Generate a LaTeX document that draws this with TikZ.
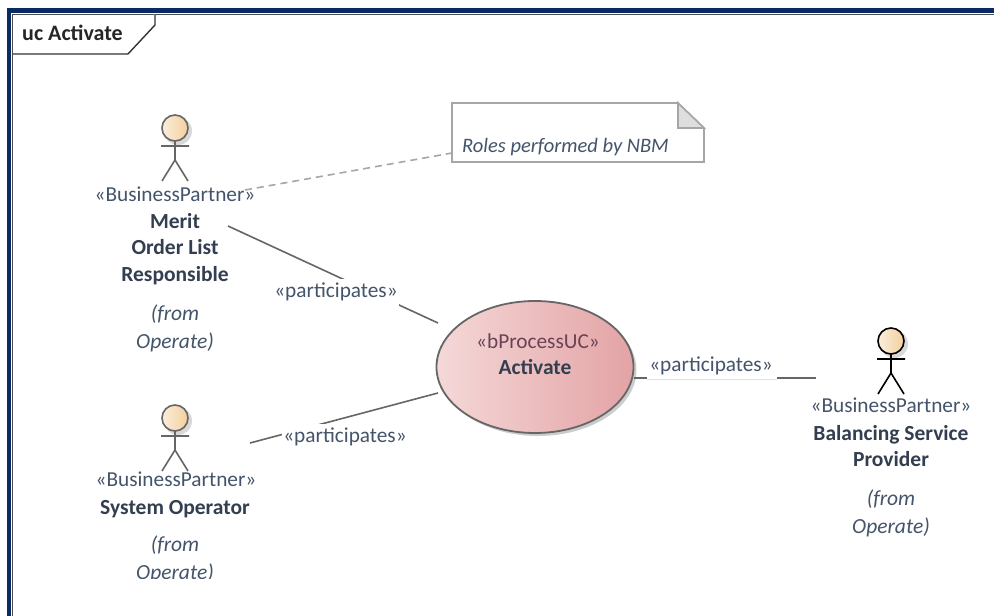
\documentclass[tikz,border=0pt]{standalone}
\usepackage{fontspec}
\setmainfont{Carlito}
\usetikzlibrary{shadows,shapes.geometric}
\definecolor{navy}{HTML}{0A2A66}
\definecolor{txt}{HTML}{44546A}
\definecolor{ln}{HTML}{666666}
\definecolor{ucleft}{HTML}{F5D8D8}
\definecolor{ucright}{HTML}{E3A3A5}
\definecolor{headleft}{HTML}{FBEEDD}
\definecolor{headright}{HTML}{F3CF9C}
\tikzset{
 frameline/.style={draw=navy,line width=4.5pt},
 conn/.style={draw=ln,line width=1.6pt},
 lab/.style={font=\fontsize{21.3}{24}\selectfont,text=txt,inner sep=1pt,minimum height=27},
 stereo/.style={font=\fontsize{21.3}{24}\selectfont,text=txt,inner sep=0pt},
 bname/.style={font=\fontsize{21.5}{26.5}\selectfont\bfseries,text=txt!75!black,align=center,inner sep=0pt},
 from/.style={font=\fontsize{21.5}{27.5}\selectfont\itshape,text=txt,align=center,inner sep=0pt},
 actorline/.style={line width=1.6pt,draw=#1},
}
\newcommand{\actorfig}[3]{% x, y of head centre, colour
 \fill[black!15] (#1+3,#2+3) circle (14);
 \draw[actorline=#3,left color=headleft,right color=headright] (#1,#2) circle (13);
 \draw[actorline=#3] (#1,#2+13) -- (#1,#2+32) (#1-14,#2+18) -- (#1+14,#2+18)
   (#1-13,#2+53) -- (#1,#2+32) -- (#1+13,#2+53);
}
\begin{document}
\begin{tikzpicture}[x=1pt,y=-1pt]
\useasboundingbox (0,0) rectangle (994,616);
\fill[white] (0,0) rectangle (994,616);
% frame
\draw[frameline] (9,616) -- (9,10.5) -- (994,10.5);
\draw[draw=black!70,line width=1.4pt] (12.5,616) -- (12.5,14.5) -- (994,14.5);
% tab
\coordinate (t1) at (12.5,54);
\coordinate (t2) at (128,54);
\coordinate (t3) at (155,25);
\coordinate (t4) at (155,14.5);
\draw[black!80,line width=1.4pt,fill=white] (t1) -- (t2) -- (t3) -- (t4);
\node[anchor=west,inner sep=0pt,font=\fontsize{22}{24}\selectfont\bfseries,text=black!85] (title) at (22,33) {uc Activate};

% actors
\actorfig{175}{128}{ln}
\actorfig{175}{418}{ln}
\actorfig{891}{341}{black}

% actor 1 text
\node[stereo] (a1) at (175,194) {«BusinessPartner»};
\node[bname,anchor=north] (a1n) at (175,213) {Merit\\Order List\\Responsible};
\node[from,anchor=north] (a1f) at (175,305) {(from\\Operate)};
% actor 2 text
\node[stereo] (a2) at (176,479) {«BusinessPartner»};
\node[bname,anchor=north] (a2n) at (175,500) {System Operator};
\begin{scope}
\clip (90,525) rectangle (270,578);
\node[from,anchor=north] (a2f) at (175,536) {(from\\Operate)};
\end{scope}
% actor 3 text
\node[stereo] (a3) at (891,405) {«BusinessPartner»};
\node[bname,anchor=north] (a3n) at (891,425) {Balancing Service\\Provider};
\node[from,anchor=north] (a3f) at (891,490) {(from\\Operate)};

% use case
\node[ellipse,minimum width=197,minimum height=132,inner sep=0pt,
  draw=ln,line width=1.8pt,left color=ucleft,right color=ucright,
  drop shadow={shadow xshift=3pt,shadow yshift=-3pt,opacity=.2,fill=black}] (uc) at (535,367) {};
\node[stereo,text=txt!80!red] (ucs) at (538,341) {«bProcessUC»};
\node[font=\fontsize{21.5}{24}\selectfont\bfseries,text=txt!75!black,inner sep=0pt] (ucn) at (535,367) {Activate};

% note
\coordinate (n1) at (452,103);
\coordinate (n2) at (678,103);
\coordinate (n3) at (704,128);
\coordinate (n4) at (704,162);
\coordinate (n5) at (452,162);
\coordinate (n6) at (678,128);
\draw[draw=black!35,line width=1.6pt,fill=white] (n1) -- (n2) -- (n3) -- (n4) -- (n5) -- cycle;
\draw[draw=black!35,line width=1.6pt,fill=black!13] (n2) -- (n3) -- (n6) -- cycle;
\node[anchor=west,inner sep=0pt,font=\fontsize{20.5}{24}\selectfont\itshape,text=txt] (nt) at (462,147) {Roles performed by NBM};

% connectors
\coordinate (c1a) at (228,226);
\coordinate (c1b) at (438,323);
\coordinate (c2a) at (250,443);
\coordinate (c2b) at (438,393);
\coordinate (c3a) at (634,378);
\coordinate (c3b) at (816,378);
\coordinate (da) at (245,190);
\coordinate (db) at (452,153);
\draw[draw=black!35,line width=1.6pt,dash pattern=on 7pt off 5pt] (da) -- (db);
\draw[conn] (c1a) -- (c1b);
\draw[conn] (c2a) -- (c2b);
\draw[conn] (c3a) -- (c3b);
\node[lab,fill=white] (l1) at (336,292) {«participates»};
\node[lab,fill=white] (l2) at (345,437) {«participates»};
\fill[white] (647,371) rectangle (777,380);
\node[lab,minimum height=20] (l3) at (711,366) {«participates»};
\draw[black!12,line width=.8pt] (647,379) -- (777,379);
\end{tikzpicture}
\end{document}
